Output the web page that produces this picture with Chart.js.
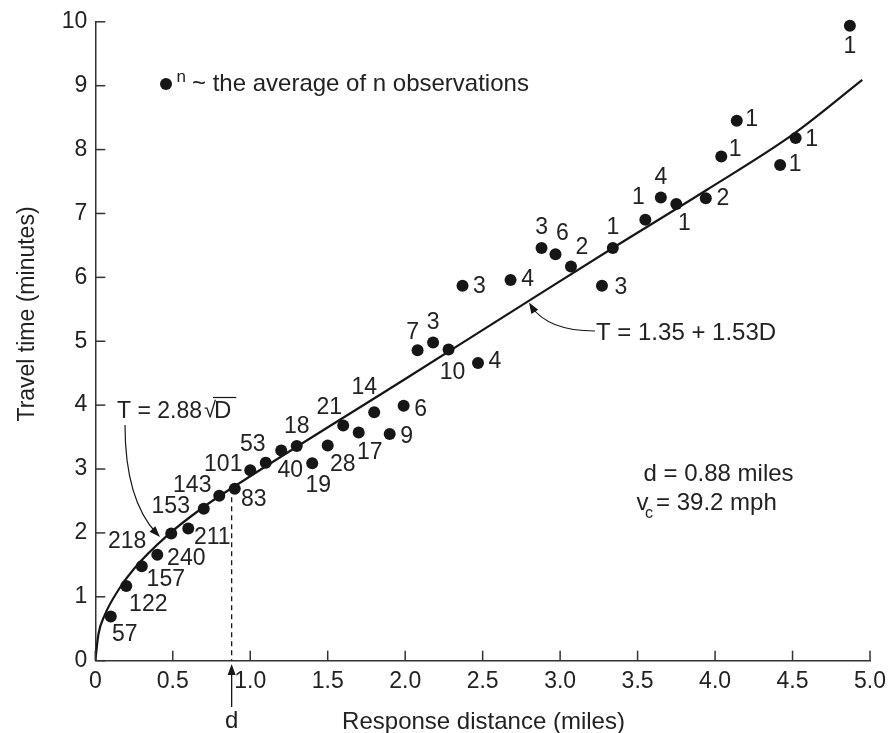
<!DOCTYPE html>
<html><head><meta charset="utf-8">
<script src="https://cdn.jsdelivr.net/npm/chart.js@4.4.1/dist/chart.umd.min.js"></script>
<style>html,body{margin:0;padding:0;background:#fff;}#wrap{width:893px;height:733px;}</style>
</head><body><div id="wrap"><canvas id="c" width="893" height="733"></canvas></div>
<script>
// ---- data ----
const distX  = [0.10,0.20,0.30,0.40,0.49,0.60,0.70,0.80,0.90,1.00,1.10,1.20,1.30,1.40,1.50,1.60,1.70,1.80,1.90,1.99,2.08,2.18,2.28,2.47,2.37,2.68,2.88,2.97,3.07,3.27,3.34,3.55,3.65,3.75,3.94,4.04,4.14,4.42,4.52,4.87];
const timeY  = [0.69,1.17,1.48,1.66,1.99,2.07,2.38,2.58,2.69,2.98,3.10,3.29,3.36,3.09,3.37,3.68,3.57,3.89,3.55,3.99,4.86,4.98,4.87,4.66,5.87,5.96,6.46,6.36,6.17,5.87,6.46,6.90,7.25,7.15,7.24,7.89,8.45,7.76,8.18,9.94];
const counts = [57,122,157,240,218,211,153,143,83,101,53,40,18,19,28,21,17,14,9,6,7,3,10,4,3,4,3,6,2,3,1,1,4,1,2,1,1,1,1,1];
const curveX = [0,0.02,0.06,0.15,0.25,0.46,0.69,0.88,2.0,2.79,3.34,3.94,4.51,4.95];
const curveY = [0,0.41,0.71,1.11,1.44,1.95,2.39,2.70,4.41,5.62,6.46,7.36,8.25,9.09];
const xTickLabels = ['0','0.5','1.0','1.5','2.0','2.5','3.0','3.5','4.0','4.5','5.0'];
const yTickLabels = ['0','1','2','3','4','5','6','7','8','9','10'];
const breakD = 0.88, breakT = 2.70;
const xTitle = 'Response distance (miles)';
const yTitle = 'Travel time (minutes)';
const legendText = '~ the average of n observations';

// ---- label placement (pixel offsets from each dot) ----
const labelDX = [14,22,24,29,-44,24,-33,-27,19,-27,-13,9,0,6,15,-14,11,-10,17,17,-5,0,4,17,17,17,0,7,11,19,0,-7,0,8,17,14,15,15,16,0];
const labelDY = [18,19,14,4,8,9,-2,-10,11,-6,-18,20,-19,22,19,-18,20,-25,3,4,-18,-20,23,-1,1,0,-20,-21,-19,2,-20,-22,-20,20,1,-7,-1,0,2,21];

const INK = '#161616', TXT = '#222', FONT = '"Liberation Sans", Arial, sans-serif';
const F = s => s + 'px ' + FONT;

const annot = {
  id: 'annot',
  afterDraw(chart) {
    const ctx = chart.ctx, xs = chart.scales.x, ys = chart.scales.y, a = chart.chartArea;
    ctx.save();
    // inward tick marks
    ctx.strokeStyle = '#333'; ctx.lineWidth = 1.5;
    xs.ticks.forEach(t => { const p = xs.getPixelForValue(t.value); ctx.beginPath(); ctx.moveTo(p, a.bottom); ctx.lineTo(p, a.bottom - 10); ctx.stroke(); });
    ys.ticks.forEach(t => { const p = ys.getPixelForValue(t.value); ctx.beginPath(); ctx.moveTo(a.left, p); ctx.lineTo(a.left + 10, p); ctx.stroke(); });
    // dashed vertical at d
    const xd = xs.getPixelForValue(breakD);
    ctx.strokeStyle = INK; ctx.lineWidth = 1.3; ctx.setLineDash([5,4]);
    ctx.beginPath(); ctx.moveTo(xd, ys.getPixelForValue(breakT)); ctx.lineTo(xd, a.bottom); ctx.stroke();
    ctx.setLineDash([]);
    // d arrow below axis
    ctx.lineWidth = 1.3;
    ctx.beginPath(); ctx.moveTo(xd, 707); ctx.lineTo(xd, 672); ctx.stroke();
    ctx.fillStyle = INK;
    ctx.beginPath(); ctx.moveTo(xd, 664); ctx.lineTo(xd - 4, 675); ctx.lineTo(xd + 4, 675); ctx.closePath(); ctx.fill();
    ctx.fillStyle = TXT; ctx.font = F(24); ctx.textAlign = 'center'; ctx.textBaseline = 'alphabetic';
    ctx.fillText('d', xd, 728);
    // count labels
    ctx.font = F(23); ctx.textAlign = 'center'; ctx.textBaseline = 'middle';
    for (let i = 0; i < counts.length; i++) {
      ctx.fillText(String(counts[i]), xs.getPixelForValue(distX[i]) + labelDX[i], ys.getPixelForValue(timeY[i]) + labelDY[i]);
    }
    // legend
    ctx.fillStyle = INK; ctx.beginPath(); ctx.arc(166, 84, 6, 0, Math.PI*2); ctx.fill();
    ctx.fillStyle = TXT; ctx.textAlign = 'left'; ctx.textBaseline = 'alphabetic';
    ctx.font = F(17); ctx.fillText('n', 176.5, 81.5);
    ctx.font = F(24); ctx.fillText(legendText, 192, 91);
    // T = 2.88 sqrt(D)
    ctx.font = F(23);
    ctx.fillText('T = 2.88', 117, 418);
    ctx.font = F(22); ctx.fillText('\u221A', 204, 417);
    ctx.font = F(24);
    ctx.fillText('D', 214, 418);
    const wD = ctx.measureText('D').width;
    ctx.strokeStyle = INK; ctx.lineWidth = 1.2;
    ctx.beginPath(); ctx.moveTo(213, 397.5); ctx.lineTo(214 + wD + 5, 397.5); ctx.stroke();
    // its arrow
    ctx.beginPath(); ctx.moveTo(125, 425); ctx.quadraticCurveTo(125, 500, 157, 534); ctx.stroke();
    arrowHead(ctx, 125, 500, 160, 537);
    // T = 1.35 + 1.53D
    ctx.fillStyle = TXT; ctx.font = F(24); ctx.textAlign = 'left';
    ctx.fillText('T = 1.35 + 1.53D', 596, 339.5);
    ctx.strokeStyle = INK; ctx.lineWidth = 1.2;
    ctx.beginPath(); ctx.moveTo(595, 331); ctx.quadraticCurveTo(548, 331, 531, 306); ctx.stroke();
    arrowHead(ctx, 546, 330, 529, 302.5);
    // d and vc
    ctx.fillStyle = TXT;
    ctx.fillText('d = 0.88 miles', 643.5, 480.5);
    ctx.fillText('v', 636.5, 510);
    ctx.font = F(16); ctx.fillText('c', 645, 518);
    ctx.font = F(24); ctx.fillText('= 39.2 mph', 656, 510);
    // axis titles
    ctx.textAlign = 'center';
    ctx.fillText(xTitle, 483.5, 729);
    ctx.font = F(23);
    ctx.save(); ctx.translate(33.5, 314); ctx.rotate(-Math.PI/2); ctx.fillText(yTitle, 0, 0); ctx.restore();
    ctx.restore();
  }
};
function arrowHead(ctx, fx, fy, tx, ty) {
  const ang = Math.atan2(ty - fy, tx - fx), L = 11, W = 4;
  ctx.fillStyle = INK;
  ctx.beginPath();
  ctx.moveTo(tx, ty);
  ctx.lineTo(tx - L*Math.cos(ang) + W*Math.sin(ang), ty - L*Math.sin(ang) - W*Math.cos(ang));
  ctx.lineTo(tx - L*Math.cos(ang) - W*Math.sin(ang), ty - L*Math.sin(ang) + W*Math.cos(ang));
  ctx.closePath(); ctx.fill();
}

new Chart(document.getElementById('c'), {
  type: 'scatter',
  data: {
    datasets: [
      { data: curveX.map((x, i) => ({x, y: curveY[i]})), showLine: true, borderColor: INK, borderWidth: 2.2,
        pointRadius: 0, cubicInterpolationMode: 'monotone', fill: false },
      { data: distX.map((x, i) => ({x, y: timeY[i]})), pointRadius: 6, pointBackgroundColor: INK, pointBorderWidth: 0, showLine: false, clip: false }
    ]
  },
  options: {
    responsive: false, animation: false, devicePixelRatio: 1,
    layout: { padding: { left: 0, right: 20.7, top: 19.5, bottom: 0 } },
    plugins: { legend: { display: false }, tooltip: { enabled: false } },
    scales: {
      x: {
        type: 'linear', min: 0, max: 5,
        afterFit: s => { s.height = 72.3; },
        afterBuildTicks: s => { s.ticks = xTickLabels.map((l, i) => ({ value: i * 0.5 })); },
        ticks: { callback: (v, i) => xTickLabels[i], color: TXT, font: { family: FONT, size: 23 }, padding: 7, maxRotation: 0, autoSkip: false },
        grid: { display: true, drawOnChartArea: false, drawTicks: false },
        border: { display: true, color: '#333', width: 1.5 }
      },
      y: {
        type: 'linear', min: 0, max: 10,
        afterFit: s => { s.width = 95.3; },
        afterBuildTicks: s => { s.ticks = yTickLabels.map((l, i) => ({ value: i })); },
        ticks: { callback: (v, i) => yTickLabels[i], color: TXT, font: { family: FONT, size: 23 }, padding: 8, autoSkip: false },
        grid: { display: true, drawOnChartArea: false, drawTicks: false },
        border: { display: true, color: '#333', width: 1.5 }
      }
    }
  },
  plugins: [annot]
});
</script></body></html>
